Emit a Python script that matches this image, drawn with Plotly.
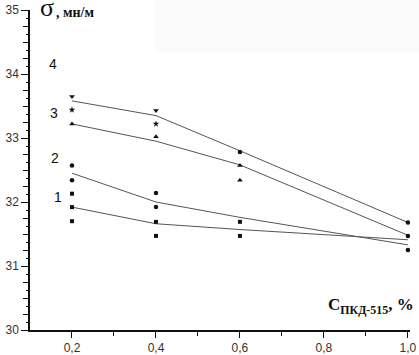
import plotly.graph_objects as go

# concentration of PKD-515, %
x_line = [0.2, 0.4, 0.6, 1.0]

# fitted curves (σ, mN/m)
line4 = [33.58, 33.35, 32.80, 31.68]
line3 = [33.22, 32.95, 32.58, 31.48]
line2 = [32.45, 32.00, 31.76, 31.33]
line1 = [31.92, 31.66, 31.57, 31.41]

# experimental points by marker symbol
tri_down_x = [0.2, 0.4]
tri_down_y = [33.65, 33.43]
star_x = [0.2, 0.4]
star_y = [33.44, 33.22]
tri_up_x = [0.2, 0.4, 0.6, 0.6]
tri_up_y = [33.22, 33.02, 32.57, 32.34]
circle_x = [0.2, 0.2, 0.4, 0.4, 0.6, 1.0, 1.0, 1.0]
circle_y = [32.57, 32.34, 32.14, 31.92, 32.78, 31.68, 31.47, 31.25]
square_x = [0.2, 0.2, 0.2, 0.4, 0.4, 0.6, 0.6]
square_y = [32.13, 31.92, 31.70, 31.69, 31.47, 31.69, 31.47]

curve_labels = ["1", "2", "3", "4"]
label_x = [0.167, 0.160, 0.158, 0.155]
label_y = [32.08, 32.69, 33.39, 34.16]

x_ticks = [0.2, 0.4, 0.6, 0.8, 1.0]
x_ticktext = ["0,2", "0,4", "0,6", "0,8", "1,0"]
y_ticks = [30, 31, 32, 33, 34, 35]

fig = go.Figure()

for ys in (line1, line2, line3, line4):
    fig.add_trace(go.Scatter(x=x_line, y=ys, mode="lines",
                             line=dict(color="#555555", width=1),
                             showlegend=False, hoverinfo="skip"))

mk = dict(color="#111111")
fig.add_trace(go.Scatter(x=tri_down_x, y=tri_down_y, mode="markers",
                         marker=dict(symbol="triangle-down", size=5, **mk), showlegend=False))
fig.add_trace(go.Scatter(x=star_x, y=star_y, mode="markers",
                         marker=dict(symbol="star", size=5, **mk), showlegend=False))
fig.add_trace(go.Scatter(x=tri_up_x, y=tri_up_y, mode="markers",
                         marker=dict(symbol="triangle-up", size=5, **mk), showlegend=False))
fig.add_trace(go.Scatter(x=circle_x, y=circle_y, mode="markers",
                         marker=dict(symbol="circle", size=4.5, **mk), showlegend=False))
fig.add_trace(go.Scatter(x=square_x, y=square_y, mode="markers",
                         marker=dict(symbol="square", size=4, **mk), showlegend=False))

# invisible trace on the secondary axis for fine y ticks
fig.add_trace(go.Scatter(x=[0.1], y=[30], yaxis="y2", mode="markers",
                         marker=dict(opacity=0), showlegend=False, hoverinfo="skip"))

for t, lx, ly in zip(curve_labels, label_x, label_y):
    fig.add_annotation(x=lx, y=ly, text=t, showarrow=False,
                       font=dict(family="Liberation Sans, Arial", size=14, color="#111"))

# y-axis title: σ, мн/м
fig.add_annotation(xref="paper", yref="paper", x=0.022, y=0.955, xanchor="left", yanchor="bottom",
                   text="σ", showarrow=False,
                   font=dict(family="Liberation Serif, Times New Roman", size=26, color="#111"))
fig.add_annotation(xref="paper", yref="paper", x=0.064, y=0.962, xanchor="left", yanchor="bottom",
                   text="<b>, мн/м</b>", showarrow=False,
                   font=dict(family="Liberation Serif, Times New Roman", size=14, color="#111"))
# x-axis title: C ПКД-515, %
fig.add_annotation(xref="paper", yref="paper", x=1.015, y=0.035, xanchor="right", yanchor="bottom",
                   text="<b>C<sub>ПКД-515</sub>, %</b>", showarrow=False,
                   font=dict(family="Liberation Serif, Times New Roman", size=17, color="#111"))

fig.add_shape(type="rect", xref="paper", yref="paper", x0=0.33, x1=1.05, y0=0.87, y1=1.05,
              fillcolor="#fbfbfb", line=dict(width=0), layer="below")

fig.update_layout(
    width=419, height=355,
    margin=dict(l=30, r=9, t=10, b=25, autoexpand=False),
    paper_bgcolor="white", plot_bgcolor="rgba(0,0,0,0)",
    font=dict(family="Liberation Sans, Arial", size=12, color="#333"),
    xaxis=dict(range=[0.1, 1.005], tickvals=x_ticks, ticktext=x_ticktext, automargin=False,
               ticks="outside", ticklen=6, tickwidth=1.2, tickcolor="#111",
               minor=dict(tickvals=[0.3, 0.5, 0.7, 0.9], ticks="outside", ticklen=4, tickcolor="#111"),
               showline=True, linecolor="#111", linewidth=1.5, showgrid=False, zeroline=False,
               tickfont=dict(size=12, color="#333")),
    yaxis=dict(range=[30, 35], tickvals=y_ticks, ticks="outside", ticklen=7, tickwidth=1.2,
               tickcolor="#111", automargin=False,
               minor=dict(dtick=0.25, ticks="outside", ticklen=5, tickcolor="#111"),
               showline=True, linecolor="#111", linewidth=1.5, showgrid=False, zeroline=False,
               tickfont=dict(size=12, color="#333")),
    yaxis2=dict(range=[30, 35], overlaying="y", side="left", dtick=0.125, ticks="outside",
                ticklen=3, tickcolor="#111", showticklabels=False, showgrid=False,
                zeroline=False, showline=False, automargin=False),
)

fig.write_html("out.html", config={"displayModeBar": False},
               post_script="document.body.style.margin='0';document.body.style.overflow='hidden';")
